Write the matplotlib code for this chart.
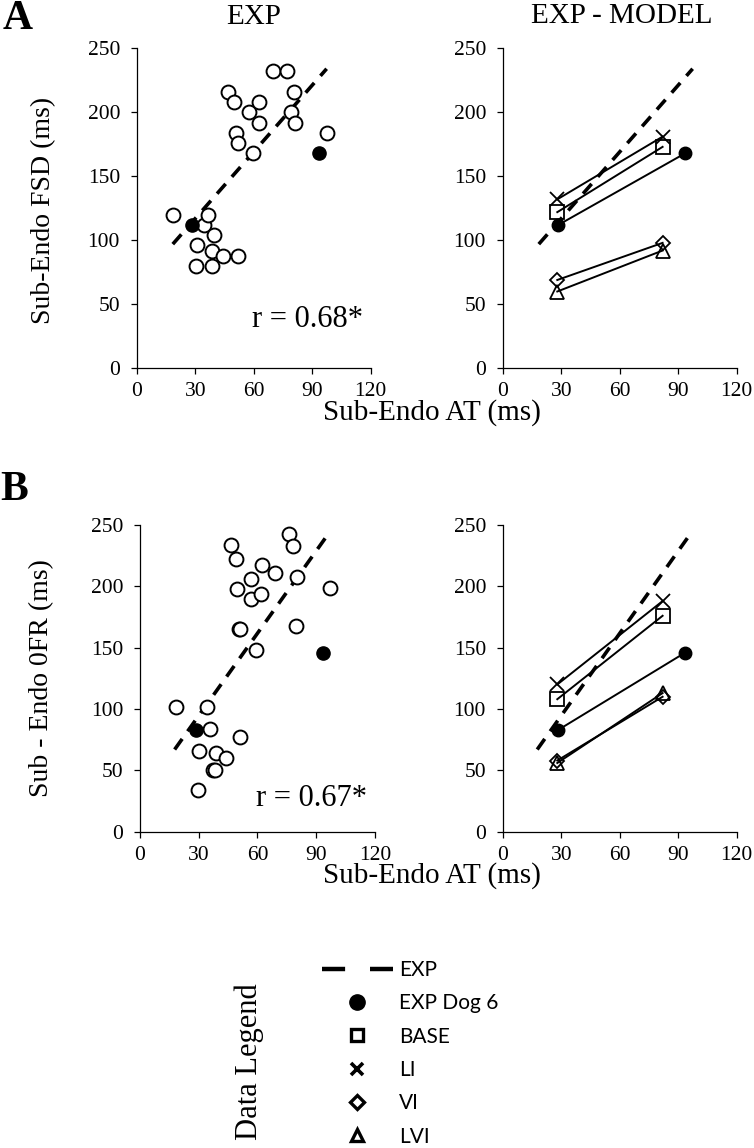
import numpy as np
import matplotlib
matplotlib.use("Agg")
from matplotlib import pyplot as plt
from matplotlib.lines import Line2D

plt.rcParams['font.family'] = 'serif'
plt.rcParams['font.serif'] = ['Liberation Serif', 'DejaVu Serif']

# ---- panel A: Sub-Endo FSD vs Sub-Endo AT (experiments) ----
a_exp_x = [18.8, 34.5, 36.4, 39.8, 30.8, 38.6, 44.4, 52.1, 30.3, 38.5,
           46.8, 49.7, 50.8, 52.0, 57.4, 62.9, 62.7, 59.8, 69.9, 77.1,
           80.7, 79.1, 81.2, 97.6]
a_exp_y = [120, 112, 120, 104, 96, 92, 88, 88, 80, 80,
           216, 208, 184, 176, 200, 208, 192, 168, 232, 232,
           216, 200, 192, 184]
a_fit_x = [18.5, 97.4]
a_fit_y = [97, 234]
a_r = "r = 0.68*"

# ---- panel B: Sub-Endo 0FR vs Sub-Endo AT (experiments) ----
b_exp_x = [18.4, 34.1, 35.8, 30.3, 39.0, 43.8, 51.1, 37.5, 38.3, 29.6,
           46.5, 48.9, 49.4, 50.8, 51.3, 56.9, 56.9, 62.5, 61.8, 59.3,
           69.0, 76.3, 78.4, 80.1, 79.9, 96.9]
b_exp_y = [102, 102, 84, 66, 64, 60, 77, 50, 50, 34,
           234, 222, 198, 165, 165, 206, 190, 217, 194, 148,
           211, 243, 233, 208, 168, 199]
b_fit_x = [17.7, 96.8]
b_fit_y = [67, 244]
b_r = "r = 0.67*"

# ---- dog 6 and models (AT in ms) ----
dog6_x = [28.5, 93.6]
dog6_a = [112, 168]
dog6_b = [83, 146]
model_x = [28, 82]
models = ['BASE', 'LI', 'VI', 'LVI']
model_a = {'BASE': [122, 173], 'LI': [132, 181], 'VI': [69, 98], 'LVI': [60, 92]}
model_b = {'BASE': [108, 176], 'LI': [120, 188], 'VI': [58, 110], 'LVI': [56, 113]}
model_marker = {'BASE': ('s', 9.5), 'LI': ('x', 10), 'VI': ('D', 7), 'LVI': ('^', 9.5)}

x_ticks = [0, 30, 60, 90, 120]
y_ticks = [0, 50, 100, 150, 200, 250]

DASH = (3.6, 2.6)

fig = plt.figure(figsize=(7.54, 11.48), dpi=100)
W, H = 754.0, 1148.0


def px_axes(x0, x1, ytop, ybot):
    return fig.add_axes([x0 / W, 1 - ybot / H, (x1 - x0) / W, (ybot - ytop) / H])


def style(ax):
    ax.set_xlim(0, 120)
    ax.set_ylim(0, 250)
    ax.set_xticks(x_ticks, [str(t) for t in x_ticks], fontfamily='Liberation Serif', fontsize=15.5)
    ax.set_yticks(y_ticks, [str(t) for t in y_ticks], fontfamily='Liberation Serif', fontsize=15.5)
    for s in ['top', 'right']:
        ax.spines[s].set_visible(False)
    for s in ['left', 'bottom']:
        ax.spines[s].set_linewidth(0.9)
    ax.tick_params(direction='out', length=4, width=0.9)
    ax.tick_params(axis='x', pad=6)
    ax.tick_params(axis='y', pad=8)
    ax.patch.set_alpha(0)


def exp_panel(ax, xs, ys, fx, fy, dog_y, rtxt, ry):
    style(ax)
    ax.plot(fx, fy, color='black', lw=2.6, dashes=DASH, zorder=2)
    ax.plot(xs, ys, ls='none', marker='o', ms=10, mfc='white', mec='black', mew=1.4, zorder=3)
    ax.plot(dog6_x, dog_y, ls='none', marker='o', ms=9.5, mfc='black', mec='black', zorder=4)
    ax.text(116, ry, rtxt, ha='right', va='center', fontsize=22)


def model_panel(ax, fx, fy, dog_y, mvals):
    style(ax)
    ax.plot(fx, fy, color='black', lw=2.6, dashes=DASH, zorder=2)
    ax.plot(dog6_x, dog_y, color='black', lw=1.4, marker='o', ms=9, mfc='black', mec='black', zorder=3)
    for m in models:
        mk, ms = model_marker[m]
        ax.plot(model_x, mvals[m], color='black', lw=1.4, marker=mk, ms=ms,
                mfc='none', mec='black', mew=1.3, zorder=3)


# panel A
axA1 = px_axes(136.7, 370.7, 48.3, 368.3)
exp_panel(axA1, a_exp_x, a_exp_y, a_fit_x, a_fit_y, dog6_a, a_r, 38)
axA2 = px_axes(502.7, 736.7, 48.3, 368.3)
model_panel(axA2, a_fit_x, a_fit_y, dog6_a, model_a)

# panel B
axB1 = px_axes(140, 374.8, 525, 831.7)
exp_panel(axB1, b_exp_x, b_exp_y, b_fit_x, b_fit_y, dog6_b, b_r, 27)
axB2 = px_axes(502.7, 736.7, 525, 831.7)
model_panel(axB2, b_fit_x, b_fit_y, dog6_b, model_b)

# titles and labels
fig.text(254 / W, 1 - 17 / H, "EXP", ha='center', va='center', fontsize=21)
fig.text(622 / W, 1 - 16 / H, "EXP - MODEL", ha='center', va='center', fontsize=21)
fig.text(3 / W, 1 - 19 / H, "A", ha='left', va='center', fontsize=30, fontweight='bold')
fig.text(0 / W, 1 - 490 / H, "B", ha='left', va='center', fontsize=30, fontweight='bold')
fig.text(44 / W, 1 - 210 / H, "Sub-Endo FSD (ms)", rotation=90, ha='center', va='center', fontsize=20)
fig.text(42 / W, 1 - 678 / H, "Sub - Endo 0FR (ms)", rotation=90, ha='center', va='center', fontsize=20)
fig.text(432 / W, 1 - 413 / H, "Sub-Endo AT (ms)", ha='center', va='center', fontsize=21)
fig.text(432 / W, 1 - 876 / H, "Sub-Endo AT (ms)", ha='center', va='center', fontsize=21)
fig.text(249 / W, 1 - 1062 / H, "Data Legend", rotation=90, ha='center', va='center', fontsize=22)

# legend
handles = [
    Line2D([], [], color='black', lw=3.2, dashes=(5.2, 5.6)),
    Line2D([], [], ls='none', marker='o', ms=11, mfc='black', mec='black'),
    Line2D([], [], ls='none', marker='s', ms=9, mfc='none', mec='black', mew=2.4),
    Line2D([], [], ls='none', marker='x', ms=9, mec='black', mew=2.6),
    Line2D([], [], ls='none', marker='D', ms=7.5, mfc='none', mec='black', mew=2.4),
    Line2D([], [], ls='none', marker='^', ms=9, mfc='none', mec='black', mew=2.4),
]
labels = ['EXP', 'EXP Dog 6', 'BASE', 'LI', 'VI', 'LVI']
fig.legend(handles, labels, loc='upper left', bbox_to_anchor=(322 / W, 1 - 960 / H),
           frameon=False, borderpad=0, borderaxespad=0, handlelength=3.4,
           handletextpad=0.3, labelspacing=0.64, prop={'family': 'Lato', 'size': 15})

fig.savefig("out.png", dpi=100)
